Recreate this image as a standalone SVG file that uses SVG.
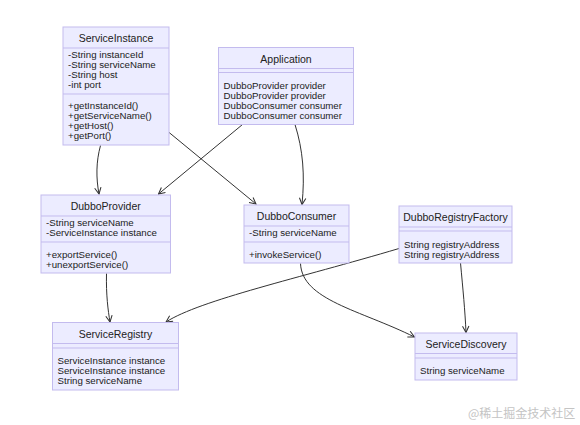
<svg xmlns="http://www.w3.org/2000/svg" width="580" height="425" viewBox="0 0 580 425">
<style>
.box{fill:#ECECFF;stroke:#c3bbee;stroke-width:1}
.sep{stroke:#c3bbee;stroke-width:1}
.t{font-family:"Liberation Sans",Arial,sans-serif;font-size:10.5px;fill:#222;text-anchor:middle}
.m{font-family:"Liberation Sans",Arial,sans-serif;font-size:9.7px;fill:#222}
.e{fill:none;stroke:#333;stroke-width:1;marker-end:url(#arr)}
.wm{font-family:"Noto Sans CJK SC",sans-serif;font-size:12px;fill:#c4c4c4}
</style>
<defs>
<marker id="arr" viewBox="0 0 10 10" refX="9" refY="5" markerWidth="8" markerHeight="8" markerUnits="userSpaceOnUse" orient="auto">
<path d="M1,1 L9,5 L1,9" fill="none" stroke="#333" stroke-width="1.3"/>
</marker>
</defs>
<rect width="580" height="425" fill="#fff"/>
<g id="connectors">
<path class="e" d="M100.5,145.5 C96,162 96,178 99,194"/>
<path class="e" d="M168.5,132 L256,204"/>
<path class="e" d="M242.5,124.5 L158.5,194"/>
<path class="e" d="M295,124.5 C303,150 305,175 302,204.5"/>
<path class="e" d="M106.5,273.5 C106,295 108,310 110,322"/>
<path class="e" d="M399,248.5 C300,278 200,300 166,322"/>
<path class="e" d="M300.5,263.5 C302,300 360,310 414.5,337"/>
<path class="e" d="M460.5,263 C463,290 465,310 466,332.5"/>
</g>
<g id="ServiceInstance">
<rect class="box" x="63" y="27" width="106" height="118"/>
<text class="t" x="116" y="42">ServiceInstance</text>
<line class="sep" x1="63" y1="48" x2="169" y2="48"/>
<text class="m" x="68" y="57.5">-String instanceId</text>
<text class="m" x="68" y="67.5">-String serviceName</text>
<text class="m" x="68" y="77.5">-String host</text>
<text class="m" x="68" y="87.5">-int port</text>
<line class="sep" x1="63" y1="94" x2="169" y2="94"/>
<text class="m" x="68" y="109">+getInstanceId()</text>
<text class="m" x="68" y="119">+getServiceName()</text>
<text class="m" x="68" y="129">+getHost()</text>
<text class="m" x="68" y="139">+getPort()</text>
</g>
<g id="Application">
<rect class="box" x="218.5" y="47.5" width="135" height="77"/>
<text class="t" x="286" y="63">Application</text>
<line class="sep" x1="218.5" y1="68.5" x2="353.5" y2="68.5"/>
<line class="sep" x1="218.5" y1="72.5" x2="353.5" y2="72.5"/>
<text class="m" x="223.5" y="89">DubboProvider provider</text>
<text class="m" x="223.5" y="99">DubboProvider provider</text>
<text class="m" x="223.5" y="109">DubboConsumer consumer</text>
<text class="m" x="223.5" y="119">DubboConsumer consumer</text>
</g>
<g id="DubboProvider">
<rect class="box" x="41" y="195" width="129.5" height="78"/>
<text class="t" x="105.7" y="210">DubboProvider</text>
<line class="sep" x1="41" y1="216" x2="170.5" y2="216"/>
<text class="m" x="46" y="226">-String serviceName</text>
<text class="m" x="46" y="236">-ServiceInstance instance</text>
<line class="sep" x1="41" y1="242" x2="170.5" y2="242"/>
<text class="m" x="46" y="257.5">+exportService()</text>
<text class="m" x="46" y="267.5">+unexportService()</text>
</g>
<g id="DubboConsumer">
<rect class="box" x="244" y="205" width="105" height="58"/>
<text class="t" x="296.5" y="220">DubboConsumer</text>
<line class="sep" x1="244" y1="226" x2="349" y2="226"/>
<text class="m" x="249" y="236">-String serviceName</text>
<line class="sep" x1="244" y1="242" x2="349" y2="242"/>
<text class="m" x="249" y="257.5">+invokeService()</text>
</g>
<g id="DubboRegistryFactory">
<rect class="box" x="399" y="206" width="113" height="57"/>
<text class="t" x="455.5" y="221">DubboRegistryFactory</text>
<line class="sep" x1="399" y1="227" x2="512" y2="227"/>
<line class="sep" x1="399" y1="231" x2="512" y2="231"/>
<text class="m" x="404" y="247.5">String registryAddress</text>
<text class="m" x="404" y="257.5">String registryAddress</text>
</g>
<g id="ServiceRegistry">
<rect class="box" x="52.5" y="322.5" width="126" height="67.5"/>
<text class="t" x="115.5" y="338">ServiceRegistry</text>
<line class="sep" x1="52.5" y1="343.5" x2="178.5" y2="343.5"/>
<line class="sep" x1="52.5" y1="348" x2="178.5" y2="348"/>
<text class="m" x="57.5" y="364">ServiceInstance instance</text>
<text class="m" x="57.5" y="374">ServiceInstance instance</text>
<text class="m" x="57.5" y="384">String serviceName</text>
</g>
<g id="ServiceDiscovery">
<rect class="box" x="415" y="333" width="102" height="47"/>
<text class="t" x="466" y="348">ServiceDiscovery</text>
<line class="sep" x1="415" y1="353.5" x2="517" y2="353.5"/>
<line class="sep" x1="415" y1="358" x2="517" y2="358"/>
<text class="m" x="420" y="374">String serviceName</text>
</g>
<text class="wm" x="468" y="418">@稀土掘金技术社区</text>
</svg>
